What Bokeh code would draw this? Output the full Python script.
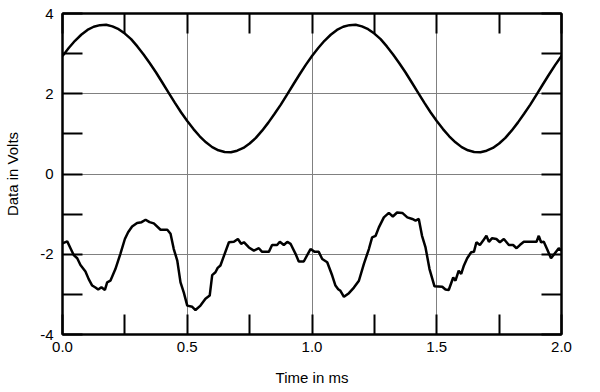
from bokeh.plotting import figure
from bokeh.models import FixedTicker, LinearAxis, Range1d, PrintfTickFormatter
from bokeh.embed import file_html
from bokeh.resources import INLINE

sine_t = [round(i * 0.025, 3) for i in range(83)]
sine_v = [2.94, 3.14, 3.32, 3.47, 3.59, 3.67, 3.71, 3.72, 3.68, 3.61,
          3.50, 3.36, 3.18, 2.98, 2.76, 2.53, 2.28, 2.03, 1.78, 1.54,
          1.32, 1.12, 0.94, 0.79, 0.67, 0.59, 0.55, 0.54, 0.58, 0.65,
          0.76, 0.90, 1.08, 1.28, 1.50, 1.73, 1.98, 2.23, 2.48, 2.72,
          2.94, 3.14, 3.32, 3.47, 3.59, 3.67, 3.71, 3.72, 3.68, 3.61,
          3.50, 3.36, 3.18, 2.98, 2.76, 2.53, 2.28, 2.03, 1.78, 1.54,
          1.32, 1.12, 0.94, 0.79, 0.67, 0.59, 0.55, 0.54, 0.58, 0.65,
          0.76, 0.90, 1.08, 1.28, 1.50, 1.73, 1.98, 2.23, 2.48, 2.72,
          2.94, 3.14, 3.32]

# Lower trace: distorted waveform
dist_t = [0.000, 0.019, 0.032, 0.045, 0.059, 0.072, 0.092, 0.105, 0.119, 0.132,
          0.143, 0.156, 0.170, 0.179, 0.192, 0.212, 0.232, 0.250, 0.263, 0.279,
          0.299, 0.317, 0.333, 0.349, 0.366, 0.393, 0.420, 0.433, 0.446, 0.460,
          0.473, 0.486, 0.500, 0.520, 0.533, 0.553, 0.573, 0.590, 0.600, 0.613,
          0.622, 0.633, 0.647, 0.667, 0.687, 0.703, 0.716, 0.727, 0.747, 0.767,
          0.787, 0.800, 0.827, 0.840, 0.860, 0.871, 0.887, 0.901, 0.914, 0.934,
          0.947, 0.967, 0.994, 1.011, 1.027, 1.041, 1.061, 1.081, 1.094, 1.105,
          1.114, 1.128, 1.148, 1.168, 1.188, 1.208, 1.228, 1.241, 1.255, 1.268,
          1.288, 1.308, 1.324, 1.341, 1.362, 1.382, 1.402, 1.415, 1.428, 1.441,
          1.455, 1.471, 1.491, 1.522, 1.535, 1.548, 1.566, 1.575, 1.588, 1.598,
          1.609, 1.622, 1.638, 1.649, 1.659, 1.673, 1.686, 1.699, 1.709, 1.722,
          1.739, 1.753, 1.769, 1.789, 1.806, 1.820, 1.833, 1.849, 1.900, 1.909,
          1.918, 1.929, 1.942, 1.958, 1.972, 1.989, 2.000]
dist_v = [-1.73, -1.68, -1.85, -2.02, -2.10, -2.27, -2.43, -2.62, -2.78, -2.83,
          -2.88, -2.82, -2.89, -2.70, -2.66, -2.37, -1.99, -1.62, -1.45, -1.31,
          -1.22, -1.20, -1.14, -1.20, -1.23, -1.39, -1.39, -1.49, -1.87, -2.16,
          -2.70, -2.95, -3.28, -3.31, -3.39, -3.28, -3.11, -3.03, -2.52, -2.45,
          -2.34, -2.28, -2.04, -1.70, -1.69, -1.62, -1.74, -1.70, -1.83, -1.91,
          -1.85, -1.94, -1.94, -1.77, -1.77, -1.69, -1.77, -1.69, -1.74, -1.99,
          -2.18, -2.18, -1.87, -1.94, -1.94, -2.12, -2.20, -2.53, -2.78, -2.87,
          -2.91, -3.06, -2.97, -2.83, -2.66, -2.24, -1.87, -1.58, -1.54, -1.33,
          -1.08, -0.97, -1.06, -0.96, -0.97, -1.08, -1.12, -1.16, -1.12, -1.54,
          -1.83, -2.37, -2.80, -2.81, -2.88, -2.89, -2.58, -2.66, -2.41, -2.49,
          -2.28, -2.10, -1.95, -1.94, -1.70, -1.77, -1.66, -1.54, -1.69, -1.60,
          -1.62, -1.70, -1.62, -1.77, -1.77, -1.85, -1.77, -1.69, -1.69, -1.54,
          -1.70, -1.69, -1.87, -2.10, -1.99, -1.85, -1.91]

x_major = [0, 0.5, 1.0, 1.5, 2.0]
x_minor = [0.25, 0.75, 1.25, 1.75]
y_major = [-4, -2, 0, 2, 4]
y_minor = [-3, -1, 1, 3]

FONT = "Liberation Sans"

p = figure(width=600, height=392, x_range=Range1d(0, 2), y_range=Range1d(-4, 4),
           output_backend="svg", toolbar_location=None,
           min_border_left=62, min_border_right=39, min_border_top=13, min_border_bottom=58,
           background_fill_color="white", border_fill_color="white")
p.outline_line_color = "black"
p.outline_line_width = 2

xt = FixedTicker(ticks=x_major, minor_ticks=x_minor)
yt = FixedTicker(ticks=y_major, minor_ticks=y_minor)

p.add_layout(LinearAxis(), "above")
p.add_layout(LinearAxis(), "right")

for ax in p.xaxis:
    ax.ticker = xt
for ax in p.yaxis:
    ax.ticker = yt

for ax in list(p.xaxis) + list(p.yaxis):
    ax.axis_line_color = "black"
    ax.axis_line_width = 2
    ax.major_tick_in = 20
    ax.major_tick_out = 0
    ax.minor_tick_in = 20
    ax.minor_tick_out = 0
    ax.major_tick_line_color = "black"
    ax.minor_tick_line_color = "black"
    ax.major_tick_line_width = 2
    ax.minor_tick_line_width = 2
    ax.major_label_text_font = FONT
    ax.major_label_text_font_size = "15px"
    ax.major_label_text_color = "black"
    ax.axis_label_text_font = FONT
    ax.axis_label_text_font_size = "15px"
    ax.axis_label_text_font_style = "normal"
    ax.axis_label_text_color = "black"

bx = p.below[0]
bx.formatter = PrintfTickFormatter(format="%.1f")
bx.axis_label = "Time in ms"
bx.major_label_standoff = 7
bx.axis_label_standoff = 14

ly = p.left[0]
ly.formatter = PrintfTickFormatter(format="%d")
ly.axis_label = "Data in Volts"
ly.major_label_standoff = 9
ly.axis_label_standoff = 16

p.above[0].major_label_overrides = {v: "" for v in x_major}
p.right[0].major_label_overrides = {v: "" for v in y_major}

p.xgrid.ticker = xt
p.ygrid.ticker = yt
for g in (p.xgrid[0], p.ygrid[0]):
    g.grid_line_color = "#808080"
    g.grid_line_width = 1

p.line(sine_t, sine_v, line_color="black", line_width=2.5)
p.line(dist_t, dist_v, line_color="black", line_width=2.5)

open("out.html", "w").write(file_html(p, INLINE))
